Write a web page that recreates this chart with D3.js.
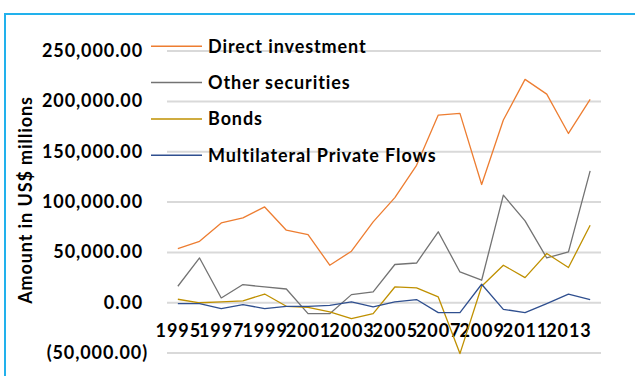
<!DOCTYPE html>
<html>
<head>
<meta charset="utf-8">
<script src="https://cdn.jsdelivr.net/npm/d3@7"></script>
<style>
  html, body { margin: 0; padding: 0; background: #fff; }
  svg { display: block; }
  text { font-family: Lato, "Open Sans", sans-serif; font-weight: bold; fill: #000; letter-spacing: 0.9px; }
</style>
</head>
<body>
<svg id="chart" width="635" height="376"></svg>
<script>
// Capital flows by type, US$ millions
const years = d3.range(1995, 2015).map(String);
const seriesNames = ["Direct investment", "Other securities", "Bonds", "Multilateral Private Flows"];
const seriesColors = ["#ED7D31", "#737373", "#BF9000", "#2F4F8F"];

const directInvestment = [53400, 60600, 78800, 83800, 94700, 71600, 67300, 36800, 50700, 79800,
                          104000, 136000, 186000, 187600, 117000, 181000, 221400, 206800, 167700, 201500];
const otherSecurities  = [15900, 44000, 4300, 17600, 15200, 13200, -11300, -11300, 7600, 10300,
                          37500, 39000, 70000, 30100, 21900, 106400, 80800, 44000, 50000, 130500];
const bonds            = [3000, -500, 300, 1300, 8200, -4000, -5000, -9600, -16200, -11300,
                          15200, 14200, 5300, -51000, 15900, 36800, 24500, 48400, 34500, 76500];
const multilateral     = [-1300, -1300, -6300, -2300, -6300, -4000, -4000, -3000, 300, -4600,
                          300, 2700, -10300, -10300, 17900, -7000, -10300, -1300, 8000, 2700];

const yTicks = [-50000, 0, 50000, 100000, 150000, 200000, 250000];
const xTickLabels = years.filter((d, i) => i % 2 === 0);

const seriesValues = [directInvestment, otherSecurities, bonds, multilateral];

const svg = d3.select("#chart");
const plot = { left: 167, right: 601, top: 50.6, bottom: 352.6 };

// frame edges
svg.append("line").attr("x1", 5).attr("x2", 635).attr("y1", 14).attr("y2", 14)
  .attr("stroke", "#22B1EC").attr("stroke-width", 2);
svg.append("line").attr("x1", 5).attr("x2", 5).attr("y1", 13).attr("y2", 376)
  .attr("stroke", "#22B1EC").attr("stroke-width", 2);

const x = d3.scaleBand().domain(years).range([plot.left, plot.right]).padding(0);
const y = d3.scaleLinear().domain([-50000, 250000]).range([plot.bottom, plot.top]);
const cx = d => x(d) + x.bandwidth() / 2;

const fmt = d3.format(",.2f");
const fmtTick = v => v < 0 ? "(" + fmt(-v) + ")" : fmt(v);

// gridlines + value labels
const yAxis = svg.append("g")
  .attr("transform", `translate(${plot.left},0)`)
  .call(d3.axisLeft(y).tickValues(yTicks).tickSize(-(plot.right - plot.left)).tickFormat(fmtTick));
yAxis.select(".domain").remove();
yAxis.selectAll(".tick line").attr("stroke", "#D9D9D9").attr("stroke-width", 2);
yAxis.selectAll(".tick text")
  .attr("x", d => d < 0 ? -19 : -24)
  .attr("font-size", 18)
  .style("font-family", "Lato, sans-serif").style("font-weight", "bold").attr("fill", "#000");

// category labels
const xAxis = svg.append("g")
  .attr("transform", `translate(0,${y(0)})`)
  .call(d3.axisBottom(x).tickValues(xTickLabels).tickSize(0));
xAxis.select(".domain").remove();
xAxis.selectAll(".tick text")
  .attr("y", 22)
  .attr("dx", "0.45px")
  .attr("font-size", 18)
  .style("font-family", "Lato, sans-serif").style("font-weight", "bold").attr("fill", "#000");

// series lines
const line = d3.line().x((d, i) => cx(years[i])).y(d => y(d));
seriesValues.forEach((vals, k) => {
  svg.append("path").datum(vals)
    .attr("d", line)
    .attr("fill", "none")
    .attr("stroke", seriesColors[k])
    .attr("stroke-width", 1.3)
    .attr("stroke-linejoin", "round");
});

// legend
const legend = svg.append("g");
seriesNames.forEach((name, k) => {
  const ly = 46.3 + k * 36.3;
  legend.append("line").attr("x1", 151).attr("x2", 202).attr("y1", ly).attr("y2", ly)
    .attr("stroke", seriesColors[k]).attr("stroke-width", 1.5);
  legend.append("text").attr("x", 208).attr("y", ly).attr("dy", "0.35em")
    .attr("font-size", 18).text(name);
});

// axis title
svg.append("text")
  .attr("transform", `translate(32,200) rotate(-90)`)
  .attr("text-anchor", "middle")
  .attr("font-size", 18)
  .text("Amount in US$ millions");
</script>
</body>
</html>
